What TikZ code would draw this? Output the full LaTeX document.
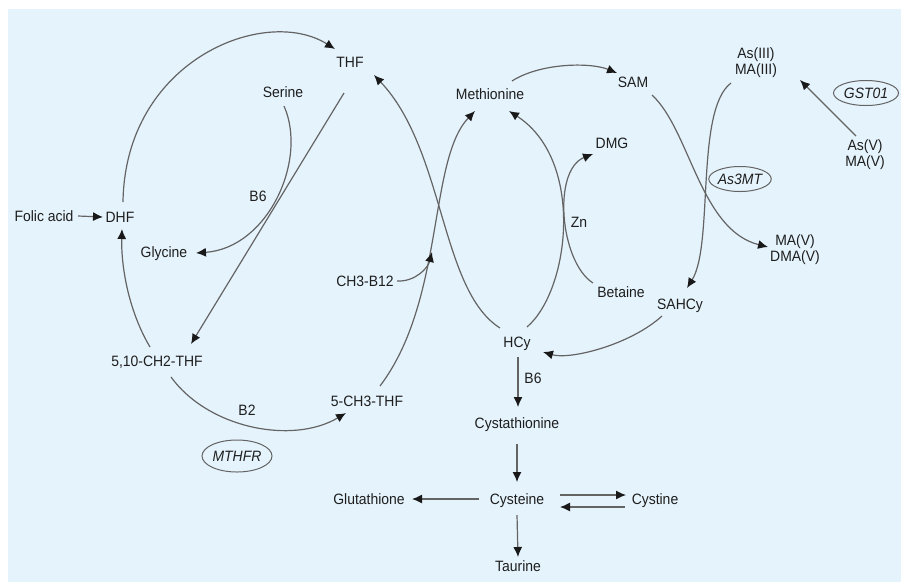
\documentclass[tikz,border=0pt]{standalone}
\usepackage{fontspec}
\setmainfont{Liberation Sans}[FakeStretch=0.93]
\usetikzlibrary{arrows.meta,calc,shapes.geometric}
\definecolor{bg}{RGB}{229,243,252}
\definecolor{ln}{RGB}{100,100,100}
\definecolor{tx}{RGB}{30,30,30}
\tikzset{
  lbl/.style={font=\fontsize{15}{16}\selectfont, text=tx, inner sep=1pt, align=center},
  enz/.style={ellipse, draw=ln, line width=1pt, font=\fontsize{15}{16}\selectfont\itshape, text=tx, inner sep=0pt},
  conn/.style={draw=ln, line width=1.2pt, -{Latex[length=10pt,width=9pt,color=black!90]}},
}
\begin{document}
\begin{tikzpicture}[x=1pt,y=-1pt]
\useasboundingbox (0,0) rectangle (901,582);
\fill[bg] (8,9) rectangle (901,582);

% nodes
\node[lbl,anchor=base] (thf) at (350,67) {THF};
\node[lbl,anchor=base] (serine) at (283,97) {Serine};
\node[lbl,anchor=base] (folic) at (44,221) {Folic acid};
\node[lbl,anchor=base] (dhf) at (120,222) {DHF};
\node[lbl,anchor=base] (b6a) at (258,201) {B6};
\node[lbl,anchor=base] (glycine) at (164,257) {Glycine};
\node[lbl,anchor=base] (ch3b12) at (365,286) {CH3-B12};
\node[lbl,anchor=base] (methionine) at (490,99) {Methionine};
\node[lbl,anchor=base] (sam) at (633,87) {SAM};
\node[lbl] (asiii) at (756,63) {As(III)\\MA(III)};
\node[enz, minimum width=65pt, minimum height=25pt] (gst) at (866,93) {GST01};
\node[lbl] (asv) at (865,155) {As(V)\\MA(V)};
\node[lbl,anchor=base] (dmg) at (612,148) {DMG};
\node[enz, minimum width=55pt, minimum height=25pt] (as3mt) at (740,179) {As3MT};
\node[lbl,anchor=base] (zn) at (579,227) {Zn};
\node[lbl] (madma) at (795,250) {MA(V)\\DMA(V)};
\node[lbl,anchor=base] (betaine) at (621,297) {Betaine};
\node[lbl,anchor=base] (sahcy) at (680,309) {SAHCy};
\node[lbl,anchor=base] (hcy) at (517,347) {HCy};
\node[lbl,anchor=base] (b6b) at (533,383) {B6};
\node[lbl,anchor=base] (cysta) at (517,428) {Cystathionine};
\node[lbl,anchor=base] (cysteine) at (517,504) {Cysteine};
\node[lbl,anchor=base] (cystine) at (655,504) {Cystine};
\node[lbl,anchor=base] (glut) at (369,504) {Glutathione};
\node[lbl,anchor=base] (taurine) at (518,571) {Taurine};
\node[lbl,anchor=base] (ch2thf) at (157,366) {5,10-CH2-THF};
\node[lbl,anchor=base] (b2) at (247,415) {B2};
\node[lbl,anchor=base] (ch3thf) at (367,406) {5-CH3-THF};
\node[enz, minimum width=70pt, minimum height=32pt] (mthfr) at (237,456) {MTHFR};

\coordinate (b12tip) at ($(ch3b12.base)+(67,-34)$);

% folate cycle
\draw[conn] ($(dhf.base)+(3,-20)$) .. controls (125,60) and (265,5) .. ($(thf.base)+(-15,-18)$);
\draw[conn] ($(ch2thf.base)+(-7,-19)$) .. controls (128,310) and (121,265) .. ($(dhf.base)+(2,7)$);
\draw[conn] ($(folic.base)+(34,-5)$) -- ($(dhf.base)+(-17,-5)$);
\draw[conn] ($(serine.base)+(1,9)$) .. controls (308,160) and (268,248) .. ($(glycine.base)+(32,-4)$);
\draw[conn] ($(thf.base)+(-6,26)$) -- ($(ch2thf.base)+(34,-22)$);
\draw[conn] ($(ch2thf.base)+(14,11)$) .. controls (208,428) and (292,445) .. ($(ch3thf.base)+(-21,7)$);
\draw[conn] ($(ch3thf.base)+(13,-20)$) .. controls (445,300) and (428,160) .. ($(methionine.base)+(-15,12)$);
\draw[conn] ($(hcy.base)+(-17,-19)$) .. controls (440,290) and (445,150) .. ($(thf.base)+(24,8)$);
\draw[conn] ($(ch3b12.base)+(32,-5)$) .. controls (415,282) and (428,268) .. (b12tip);

% methionine cycle
\draw[conn] ($(hcy.base)+(10,-20)$) .. controls (570,290) and (585,160) .. ($(methionine.base)+(19,12)$);
\draw[conn] ($(betaine.base)+(-28,-14)$) .. controls (560,262) and (552,170) .. ($(dmg.base)+(-19,6)$);
\draw[conn] ($(methionine.base)+(22,-18)$) .. controls (540,63) and (590,62) .. ($(sam.base)+(-16,-14)$);
\draw[conn] ($(sam.base)+(19,8)$) .. controls (690,130) and (700,230) .. ($(madma.west)+(-1,-3)$);
\draw[conn] ($(asiii.center)+(-25,20)$) .. controls (695,110) and (714,245) .. ($(sahcy.base)+(7,-21)$);
\draw[conn] ($(sahcy.base)+(-18,7)$) .. controls (630,345) and (570,360) .. ($(hcy.base)+(26,5)$);
\draw[conn] ($(asv.center)+(-9,-19)$) -- ($(asiii.center)+(44,17)$);

% transsulfuration
\draw[conn] ($(hcy.base)+(1,10)$) -- ($(cysta.base)+(1,-21)$);
\draw[conn] ($(cysta.base)+(0,16)$) -- ($(cysteine.base)+(0,-22)$);
\draw[conn] ($(cysteine.base)+(-38,-5)$) -- ($(glut.base)+(43,-5)$);
\draw[conn] ($(cysteine.base)+(43,-9)$) -- ($(cystine.base)+(-29,-9)$);
\draw[conn] ($(cystine.base)+(-30,3)$) -- ($(cysteine.base)+(43,3)$);
\draw[conn] ($(cysteine.base)+(0,11)$) -- ($(taurine.base)+(0,-14)$);
\end{tikzpicture}
\end{document}
